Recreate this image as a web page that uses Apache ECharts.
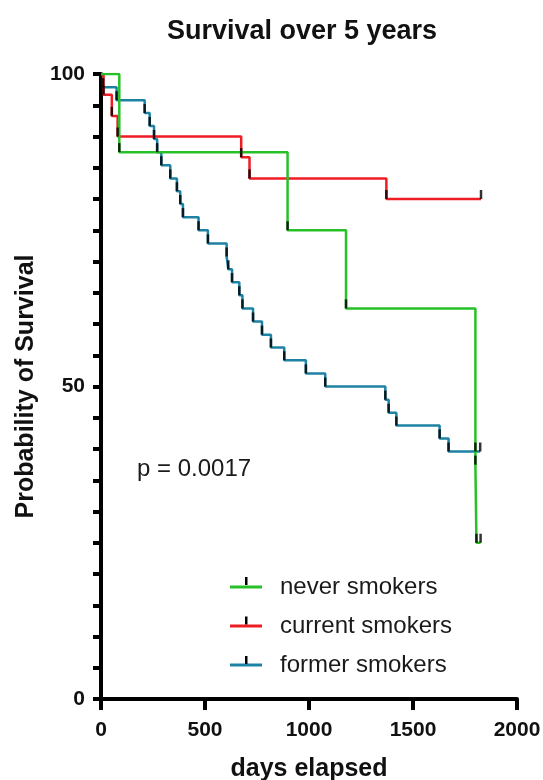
<!DOCTYPE html>
<html>
<head>
<meta charset="utf-8">
<script src="https://cdn.jsdelivr.net/npm/echarts@6/dist/echarts.min.js"></script>
<style>
  html, body { margin: 0; padding: 0; background: #fff; }
  #chart { width: 543px; height: 780px; }
</style>
</head>
<body>
<div id="chart"></div>
<script>
// Kaplan-Meier steps: [day, survival %] — value is the new level after each drop
const neverSmokers = [[0, 100], [88, 87.5], [897, 75], [1178, 62.5], [1800, 37.5], [1805, 25], [1825, 25]]
const currentSmokers = [[0, 100], [12, 96.7], [52, 93.3], [80, 90], [674, 86.7], [714, 83.3], [1372, 80], [1827, 80]]
const formerSmokers = [
  [0, 100], [10, 97.9], [75, 95.8], [210, 93.75], [234, 91.7], [255, 89.6], [270, 87.5],
  [290, 85.4], [333, 83.3], [365, 81.25], [381, 79.2], [394, 77.1], [469, 75], [514, 72.9],
  [604, 70.8], [612, 68.75], [630, 66.7], [665, 64.6], [680, 62.5], [731, 60.4], [774, 58.3],
  [817, 56.25], [881, 54.2], [985, 52.1], [1078, 50], [1367, 47.9], [1383, 45.8], [1420, 43.75],
  [1628, 41.7], [1671, 39.6], [1823, 39.6]
]
// extra censored observations not at a drop
const formerExtraCensor = [[1800, 39.6]]

const names = ['never smokers', 'current smokers', 'former smokers']
const colors = ['#27c127', '#ee1d23', '#1d82a3']
const xTicks = [0, 500, 1000, 1500, 2000]
const yLabels = [0, 50, 100]

const chart = echarts.init(document.getElementById('chart'))
const font = 'Liberation Sans, Arial, sans-serif'

const lines = [neverSmokers, currentSmokers, formerSmokers]

const tickData = [
  ...neverSmokers.slice(1),
  ...currentSmokers.slice(1),
  ...formerSmokers.slice(1),
  ...formerExtraCensor
]

const legendTop = 575
const legendStep = 39.5

const option = {
  animation: false,
  title: {
    text: 'Survival over 5 years',
    left: 297,
    top: 13,
    textAlign: 'center',
    textStyle: { fontFamily: font, fontSize: 27, fontWeight: 'bold', color: '#111' }
  },
  legend: {
    orient: 'vertical',
    left: 230,
    top: legendTop,
    padding: 0,
    itemGap: 15,
    itemWidth: 32,
    itemHeight: 14,
    data: names,
    icon: 'path://M0,5.5 L32,5.5 L32,8.5 L0,8.5 Z',
    textStyle: { fontFamily: font, fontSize: 24, color: '#1a1a1a', padding: [0, 0, 0, 13] }
  },
  grid: { left: 101, right: 26, top: 74, bottom: 81, outerBoundsMode: 'none' },
  xAxis: {
    type: 'value',
    min: 0,
    max: 2000,
    interval: 500,
    name: 'days elapsed',
    nameLocation: 'middle',
    nameGap: 58,
    nameTextStyle: { fontFamily: font, fontSize: 25, fontWeight: 'bold', color: '#111' },
    axisLine: { show: true, onZero: false, lineStyle: { color: '#000', width: 4 } },
    axisTick: { show: true, length: 11, lineStyle: { color: '#000', width: 4 } },
    axisLabel: {
      margin: 21,
      fontFamily: font, fontSize: 21, fontWeight: 'bold', color: '#111',
      formatter: v => xTicks.includes(v) ? String(v) : ''
    },
    splitLine: { show: false }
  },
  yAxis: {
    type: 'value',
    min: 0,
    max: 100,
    interval: 5,
    name: 'Probability of Survival',
    nameLocation: 'middle',
    nameGap: 59,
    nameTextStyle: { fontFamily: font, fontSize: 25, fontWeight: 'bold', color: '#111' },
    axisLine: { show: true, onZero: false, lineStyle: { color: '#000', width: 4 } },
    axisTick: { show: true, length: 8, lineStyle: { color: '#000', width: 4 } },
    axisLabel: {
      margin: 16,
      fontFamily: font, fontSize: 21, fontWeight: 'bold', color: '#111',
      formatter: v => yLabels.includes(v) ? String(v) : ''
    },
    splitLine: { show: false }
  },
  graphic: [
    {
      type: 'text',
      left: 137,
      top: 457,
      style: { text: 'p = 0.0017', font: '24px ' + font, fill: '#1a1a1a' }
    }
  ],
  series: [
    ...lines.map((d, i) => ({
      name: names[i],
      type: 'line',
      step: 'end',
      data: d,
      showSymbol: false,
      symbol: 'none',
      color: colors[i],
      lineStyle: { color: colors[i], width: 2.5 },
      z: 3 + (2 - i)
    })),
    {
      name: 'censored',
      type: 'scatter',
      data: tickData,
      symbol: 'rect',
      symbolSize: [2.5, 9],
      symbolOffset: [0, -4.5],
      itemStyle: { color: '#000' },
      silent: true,
      z: 10
    }
  ]
}

chart.setOption(option)

// small black censor ticks on the legend line icons
const legendTicks = [0, 1, 2].map(i => ({
  type: 'rect',
  shape: { x: 245, y: legendTop + i * legendStep + 2, width: 2.5, height: 8 },
  style: { fill: '#000' },
  z: 100
}))
chart.setOption({ graphic: [...option.graphic, ...legendTicks] })
</script>
</body>
</html>
